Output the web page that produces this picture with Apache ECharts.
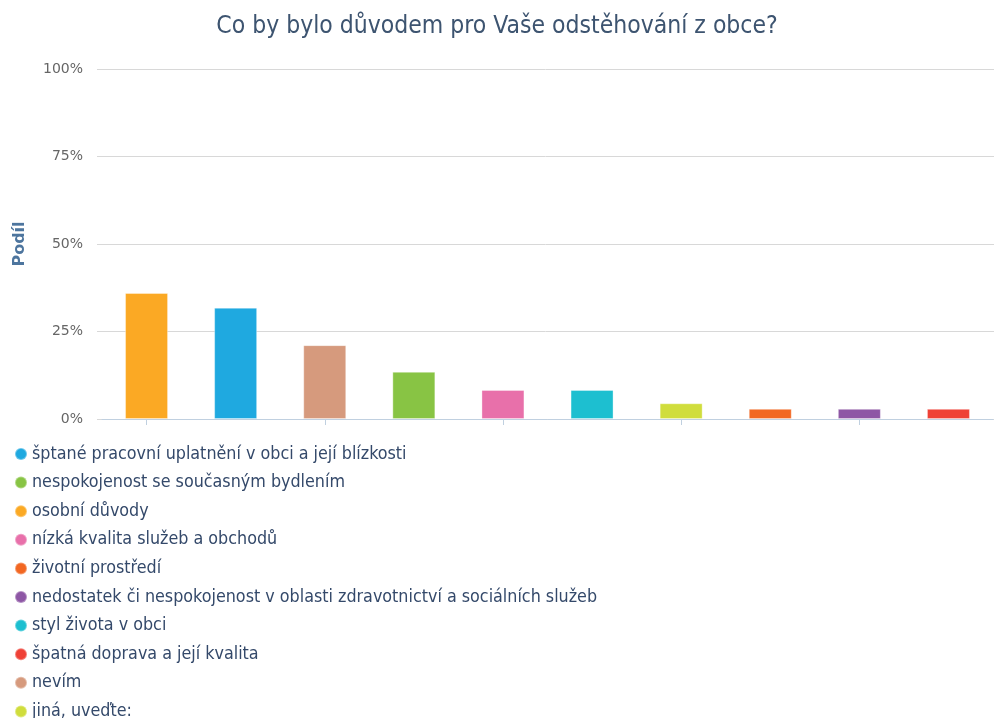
<!DOCTYPE html>
<html><head><meta charset="utf-8">
<script src="https://cdn.jsdelivr.net/npm/echarts@6/dist/echarts.min.js"></script>
<style>html,body{margin:0;padding:0;background:#fff}#c{width:994px;height:718px}</style>
</head><body><div id="c"></div>
<script>
const title = 'Co by bylo důvodem pro Vaše odstěhování z obce?';
const yTicks = [0, 25, 50, 75, 100];
// legend order
const seriesNames = [
  'šptané pracovní uplatnění v obci a její blízkosti',
  'nespokojenost se současným bydlením',
  'osobní důvody',
  'nízká kvalita služeb a obchodů',
  'životní prostředí',
  'nedostatek či nespokojenost v oblasti zdravotnictví a sociálních služeb',
  'styl života v obci',
  'špatná doprava a její kvalita',
  'nevím',
  'jiná, uveďte:'
];
const seriesValues = [31.8, 13.5, 36.0, 8.3, 2.9, 2.9, 8.3, 2.9, 21.1, 4.5];
// position of each series on the category axis (bars sorted by value)
const seriesPosition = [1, 3, 0, 4, 7, 8, 5, 9, 2, 6];
const categories = ['', '', '', '', '', '', '', '', '', ''];
const colors = ['#1FA9E0', '#88C444', '#FBA924', '#E870AA', '#F26722', '#8E57A5', '#1DBFD0', '#EF4136', '#D69A7D', '#D0DD3C'];

const series = seriesNames.map((name, i) => {
  const data = categories.map(() => '-');
  data[seriesPosition[i]] = seriesValues[i];
  return {
    name, type: 'bar', stack: 'all', barWidth: 43,
    xAxisIndex: 1, yAxisIndex: 1,
    data,
    itemStyle: { color: colors[i], borderColor: 'rgba(255,255,255,0.35)', borderWidth: 1 },
    emphasis: { disabled: true }
  };
});

const chart = echarts.init(document.getElementById('c'), null, { renderer: 'canvas' });
chart.setOption({
  animation: false,
  color: colors,
  title: {
    text: title, left: 'center', top: 9,
    textStyle: { fontFamily: 'DejaVu Sans Condensed', fontSize: 24.5, fontWeight: 'normal', color: '#3D5470' }
  },
  grid: [
    { left: 97, right: 0, top: 69, bottom: 299 },
    { left: 102, right: 1, top: 69, bottom: 299 }
  ],
  xAxis: [
    { type: 'value', gridIndex: 0, show: false, min: 0, max: 1 },
    {
      type: 'category', gridIndex: 1, data: categories,
      axisLine: { lineStyle: { color: '#C0D0E0', width: 1 } },
      axisTick: { show: true, alignWithLabel: true, interval: 1, length: 6, lineStyle: { color: '#C0D0E0' } },
      axisLabel: { show: false }
    }
  ],
  yAxis: [
    {
      type: 'value', gridIndex: 0, min: yTicks[0], max: yTicks[yTicks.length - 1], interval: 25,
      name: 'Podíl', nameLocation: 'middle', nameGap: 69, nameRotate: 90,
      nameTextStyle: { fontFamily: 'DejaVu Sans', fontSize: 16, fontWeight: 'bold', color: '#4D759E' },
      axisLabel: { formatter: '{value}%', margin: 14, fontFamily: 'DejaVu Sans', fontSize: 14, color: '#666666' },
      splitLine: { lineStyle: { color: '#D8D8D8', width: 1 } },
      axisLine: { show: false }, axisTick: { show: false }
    },
    {
      type: 'value', gridIndex: 1, min: yTicks[0], max: yTicks[yTicks.length - 1], interval: 25,
      show: false, splitLine: { show: false }
    }
  ],
  legend: {
    orient: 'vertical', left: 9, top: 440, height: 300,
    icon: 'circle', itemWidth: 12, itemHeight: 12, itemGap: 10.6, itemTextGap: 7,
    textStyle: { fontFamily: 'DejaVu Sans Condensed', fontSize: 17.75, color: '#34496A', lineHeight: 18 },
    data: seriesNames
  },
  series
});
</script></body></html>
